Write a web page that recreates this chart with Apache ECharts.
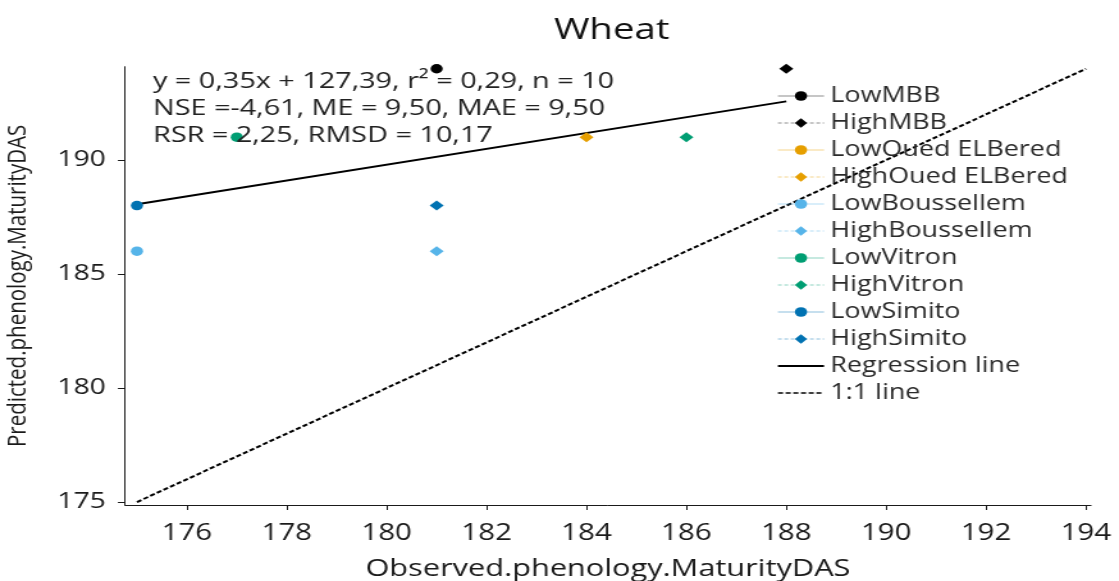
<!DOCTYPE html>
<html>
<head>
<meta charset="utf-8">
<script src="https://cdn.jsdelivr.net/npm/echarts@6/dist/echarts.min.js"></script>
<style>
  html, body { margin: 0; padding: 0; background: #ffffff; overflow: hidden; width: 1119px; height: 581px; }
  /* the chart is laid out narrower and widened horizontally, giving the stretched R-export look */
  #chart { width: 874px; height: 581px; transform: scaleX(1.2803); transform-origin: 0 0; }
</style>
</head>
<body>
<div id="chart"></div>
<script>
// Sites and their colours
const groups = ['MBB', 'Oued ELBered', 'Boussellem', 'Vitron', 'Simito'];
const groupColors = ['#000000', '#E69F00', '#56B4E9', '#009E73', '#0072B2'];

// Observed vs predicted maturity (days after sowing), Low and High treatment per site
const lowObserved   = [181, null, 175, 177, 175];
const lowPredicted  = [194, null, 186, 191, 188];
const highObserved  = [188, 184, 181, 186, 181];
const highPredicted = [194, 191, 186, 191, 188];

// Fitted regression of predicted on observed, over the observed range
const regSlope = 0.3467;
const regIntercept = 127.39;
const regRange = [175, 188];
// 1:1 reference line
const oneToOneRange = [175, 194];

// Axis ticks
const xTicks = [176, 178, 180, 182, 184, 186, 188, 190, 192, 194];
const yTicks = [175, 180, 185, 190];

// Goodness-of-fit statistics
const statLines = [
  'y = 0,35x + 127,39, r\u00B2 = 0,29, n = 10',
  'NSE =-4,61, ME = 9,50, MAE = 9,50',
  'RSR = 2,25, RMSD = 10,17'
];

const FONT = '"Open Sans", "Noto Sans", sans-serif';
const INK = '#1a1a1a';

function fade(hex, a) {
  const n = parseInt(hex.slice(1), 16);
  return 'rgba(' + (n >> 16 & 255) + ',' + (n >> 8 & 255) + ',' + (n & 255) + ',' + a + ')';
}

function pointSeries(name, x, y, symbol, size, color, dash) {
  return {
    name: name,
    type: 'line',
    data: x == null ? [] : [[x, y]],
    symbol: symbol,
    symbolSize: size,
    showSymbol: true,
    itemStyle: { color: color },
    lineStyle: { color: fade(color, 0.45), width: 1, type: dash },
    emphasis: { disabled: true },
    z: 4
  };
}

const series = [];
const legendData = [];
groups.forEach(function (g, i) {
  series.push(pointSeries('Low' + g, lowObserved[i], lowPredicted[i], 'circle', 9.5, groupColors[i], 'solid'));
  series.push(pointSeries('High' + g, highObserved[i], highPredicted[i], 'diamond', [11, 10], groupColors[i], [3, 2]));
  legendData.push({ name: 'Low' + g }, { name: 'High' + g });
});

series.push({
  name: 'Regression line',
  type: 'line',
  data: regRange.map(function (x) { return [x, regSlope * x + regIntercept]; }),
  symbol: 'none',
  itemStyle: { color: '#000000' },
  lineStyle: { color: '#000000', width: 2 },
  emphasis: { disabled: true },
  z: 3
});
series.push({
  name: '1:1 line',
  type: 'line',
  data: oneToOneRange.map(function (v) { return [v, v]; }),
  symbol: 'none',
  itemStyle: { color: '#000000' },
  lineStyle: { color: '#000000', width: 2, type: [4, 2] },
  emphasis: { disabled: true },
  z: 3
});
legendData.push(
  { name: 'Regression line', itemStyle: { opacity: 0 }, lineStyle: { width: 2 } },
  { name: '1:1 line', itemStyle: { opacity: 0 }, lineStyle: { width: 1.5 } }
);

const chart = echarts.init(document.getElementById('chart'), null, { renderer: 'canvas' });
chart.setOption({
  animation: false,
  backgroundColor: '#ffffff',
  title: {
    text: 'Wheat',
    left: 477.8,
    top: 15,
    padding: 0,
    textAlign: 'center',
    textStyle: { fontFamily: FONT, fontSize: 30, fontWeight: 'normal', color: '#111111' }
  },
  grid: {
    left: 97.6, right: 21.9, top: 66.7, bottom: 76,
    containLabel: false,
    outerBoundsMode: 'none'
  },
  legend: {
    orient: 'vertical',
    left: 606.6,
    top: 85.5,
    padding: 0,
    itemWidth: 36,
    itemHeight: 12,
    itemGap: 6,
    selectedMode: false,
    lineStyle: { width: 1 },
    textStyle: { fontFamily: FONT, fontSize: 21, lineHeight: 21, color: '#2a2a2a' },
    data: legendData
  },
  xAxis: {
    type: 'value',
    min: 174.76,
    max: 194.1,
    name: 'Observed.phenology.MaturityDAS',
    nameLocation: 'middle',
    nameGap: 52,
    nameTextStyle: { fontFamily: FONT, fontSize: 24, color: INK },
    axisLine: { show: true, onZero: false, lineStyle: { color: INK, width: 1 } },
    axisTick: { show: true, inside: false, length: 5, customValues: xTicks, lineStyle: { color: INK } },
    axisLabel: { show: true, customValues: xTicks, margin: 17, fontFamily: FONT, fontSize: 23, color: INK },
    splitLine: { show: false }
  },
  yAxis: {
    type: 'value',
    min: 174.87,
    max: 194.09,
    name: 'Predicted.phenology.MaturityDAS',
    nameLocation: 'middle',
    nameRotate: 90,
    nameGap: 73,
    nameTextStyle: { fontFamily: FONT, fontSize: 20.5, color: INK },
    axisLine: { show: true, onZero: false, lineStyle: { color: INK, width: 1 } },
    axisTick: { show: true, inside: false, length: 5.5, customValues: yTicks, lineStyle: { color: INK } },
    axisLabel: { show: true, customValues: yTicks, margin: 15, fontFamily: FONT, fontSize: 22, color: INK },
    splitLine: { show: false }
  },
  graphic: [{
    type: 'text',
    left: 119.5,
    top: 68.5,
    z: 10,
    style: {
      text: statLines.join('\n'),
      fontFamily: FONT,
      fontSize: 22.5,
      lineHeight: 27,
      fill: '#222222'
    }
  }],
  series: series
});
</script>
</body>
</html>
